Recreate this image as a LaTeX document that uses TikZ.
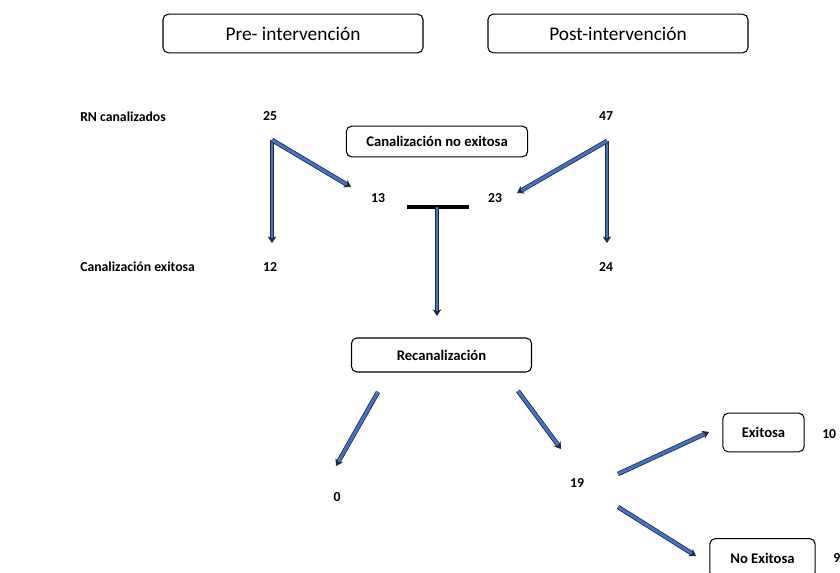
\documentclass[tikz,border=0pt]{standalone}
\usepackage{fontspec}
\setmainfont{Carlito}
\usetikzlibrary{arrows.meta}
\definecolor{arrblue}{HTML}{4472C4}
\definecolor{arrdark}{HTML}{1F2A44}
\begin{document}
\begin{tikzpicture}[x=0.75pt,y=-0.75pt,
  hbox/.style={draw=black,line width=0.8pt,rounded corners=4pt,fill=white,inner sep=0pt,font=\fontsize{14.5}{16}\selectfont},
  sbox/.style={draw=black,line width=0.8pt,rounded corners=4pt,fill=white,inner sep=0pt,font=\bfseries\fontsize{11}{13}\selectfont},
  lbl/.style={inner sep=0pt,font=\bfseries\fontsize{10.3}{12}\selectfont},
  arr/.style={draw=arrdark,line width=0.6pt,double=arrblue,double distance=2.2pt,-{Stealth[length=5pt,width=6.5pt,fill=arrdark]}}
]
\useasboundingbox (0,0) rectangle (840,573);
\clip (0,0) rectangle (840,573);
% header boxes
\node[hbox,minimum width=195pt,minimum height=29pt] (pre) at (293,33.5) {Pre- intervención};
\node[hbox,minimum width=195pt,minimum height=29pt] (post) at (618,33.5) {Post-intervención};
% row labels
\node[lbl,anchor=west] (rn) at (80,117) {RN canalizados};
\node[lbl,anchor=west] (ce) at (80,267) {Canalización exitosa};
% numbers
\node[lbl] (n25) at (270,116) {25};
\node[lbl] (n47) at (606,116) {47};
\node[lbl] (n13) at (378,198) {13};
\node[lbl] (n23) at (495,198) {23};
\node[lbl] (n12) at (270,267) {12};
\node[lbl] (n24) at (606,267) {24};
\node[lbl] (n0) at (337,497) {0};
\node[lbl] (n19) at (577,483) {19};
\node[lbl,anchor=west] (n10) at (822,434) {10};
\node[lbl,anchor=west] (n9) at (833,558) {9};
% boxes
\node[sbox,minimum width=136pt,minimum height=23pt] (cne) at (437,141.5) {Canalización no exitosa};
\node[sbox,minimum width=135pt,minimum height=25.5pt] (rec) at (441.5,355) {Recanalización};
\node[sbox,minimum width=61pt,minimum height=29pt] (exi) at (763.5,432.5) {Exitosa};
\node[sbox,minimum width=79pt,minimum height=29pt] (noe) at (762.5,558) {No Exitosa};
% arrow endpoints
\coordinate (a25) at (272,140);
\coordinate (a47) at (607,141);
\coordinate (tl) at (407,207);
\coordinate (tr) at (469,207);
\coordinate (tm) at (437,207);
\coordinate (tb) at (437,316);
\coordinate (rl) at (378,392);
\coordinate (rr) at (518,391);
\coordinate (e0) at (336,466);
\coordinate (e19) at (561,449);
\coordinate (s19a) at (618,474);
\coordinate (s19b) at (618,507);
% arrows
\draw[arr] (a25) -- (272,243);
\draw[arr] (a25) -- (351,187);
\draw[arr] (a47) -- (607,243);
\draw[arr] (a47) -- (517,193);
\draw[black,line width=2.4pt] (tl) -- (tr);
\draw[arr] (tm) -- (tb);
\draw[arr] (rl) -- (e0);
\draw[arr] (rr) -- (e19);
\draw[arr] (s19a) -- (709,432);
\draw[arr] (s19b) -- (696,556);
\end{tikzpicture}
\end{document}
